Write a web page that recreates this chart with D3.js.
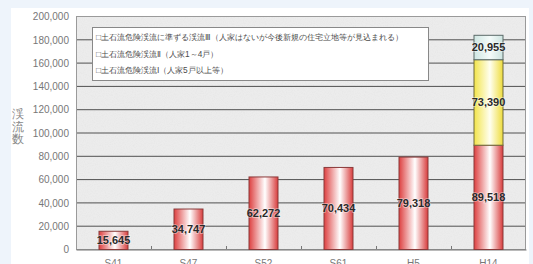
<!DOCTYPE html>
<html>
<head>
<meta charset="utf-8">
<script src="https://cdn.jsdelivr.net/npm/d3@7"></script>
<style>
  body { margin: 0; background: #eef4fb; }
  svg { display: block; }
  text { font-family: "Liberation Sans", Arial, sans-serif; }
  .jp { font-family: "Noto Sans CJK JP", sans-serif; }
</style>
</head>
<body>
<svg id="chart" width="533" height="264"></svg>
<script>
// data
var categories = ["S41", "S47", "S52", "S61", "H5", "H14"];
var danger1 = [15645, 34747, 62272, 70434, 79318, 89518];   // 土石流危険渓流Ⅰ
var danger2 = [0, 0, 0, 0, 0, 73390];                       // 土石流危険渓流Ⅱ
var danger3 = [0, 0, 0, 0, 0, 20955];                       // 準ずる渓流Ⅲ
var yTicks = [0, 20000, 40000, 60000, 80000, 100000, 120000, 140000, 160000, 180000, 200000];
var legendLabels = [
  "□土石流危険渓流に準ずる渓流Ⅲ（人家はないが今後新規の住宅立地等が見込まれる）",
  "□土石流危険渓流Ⅱ（人家1～4戸）",
  "□土石流危険渓流Ⅰ（人家5戸以上等）"
];

var svg = d3.select("#chart");

// note: "top" is taken by window.top, so plot edges get their own names
var plotL = 76, plotR = 526, plotT = 16, plotB = 249;

var x = d3.scaleBand()
    .domain(categories)
    .range([plotL, plotR])
    .paddingInner(0.6)
    .paddingOuter(0.3);

var y = d3.scaleLinear()
    .domain([0, 200000])
    .range([plotB, plotT]);

var defs = svg.append("defs");

function barGradient(id, edgeL, mid, edgeR) {
  var g = defs.append("linearGradient").attr("id", id)
      .attr("x1", "0%").attr("x2", "100%").attr("y1", "0%").attr("y2", "0%");
  g.append("stop").attr("offset", "0%").attr("stop-color", edgeL);
  g.append("stop").attr("offset", "55%").attr("stop-color", mid);
  g.append("stop").attr("offset", "100%").attr("stop-color", edgeR);
}
barGradient("gRed", "#dd4040", "#ffffff", "#d83c3c");
barGradient("gYel", "#f2e44a", "#fffff0", "#eedc3c");
barGradient("gCyan", "#cfe6e2", "#f4fbfa", "#cce3df");

// grainy grey texture for the plot area
var f = defs.append("filter").attr("id", "grain")
    .attr("x", 0).attr("y", 0).attr("width", "100%").attr("height", "100%");
f.append("feTurbulence").attr("type", "fractalNoise")
    .attr("baseFrequency", 0.9).attr("numOctaves", 2).attr("seed", 3).attr("result", "n");
f.append("feColorMatrix").attr("in", "n").attr("type", "matrix")
    .attr("values", "0 0 0 0 0.55  0 0 0 0 0.55  0 0 0 0 0.55  0 0 0 -0.9 0.55");

// white chart panel
svg.append("rect")
    .attr("x", 11).attr("y", 8).attr("width", 518).attr("height", 256)
    .attr("fill", "#ffffff");

// plot area
svg.append("rect")
    .attr("x", plotL).attr("y", plotT).attr("width", plotR - plotL).attr("height", plotB - plotT)
    .attr("fill", "#ececec");
svg.append("rect")
    .attr("x", plotL).attr("y", plotT).attr("width", plotR - plotL).attr("height", plotB - plotT)
    .attr("fill", "#000").attr("filter", "url(#grain)").attr("opacity", 0.25);

// gridlines
svg.append("g")
  .selectAll("line")
  .data(yTicks)
  .enter().append("line")
    .attr("x1", plotL).attr("x2", plotR)
    .attr("y1", function(d) { return y(d) + 0.5; })
    .attr("y2", function(d) { return y(d) + 0.5; })
    .attr("stroke", "#505050").attr("stroke-width", 1);

svg.append("rect")
    .attr("x", plotL + 0.5).attr("y", plotT + 0.5)
    .attr("width", plotR - plotL - 1).attr("height", plotB - plotT)
    .attr("fill", "none").attr("stroke", "#9a9a9a");

// y axis
var yAxis = svg.append("g")
    .attr("transform", "translate(" + plotL + ",0.5)")
    .call(d3.axisLeft(y).tickValues(yTicks).tickSize(0).tickPadding(7)
      .tickFormat(d3.format(",")));
yAxis.select(".domain").remove();
yAxis.selectAll("text")
    .attr("fill", "#777")
    .style("font-size", "10px")
    .style("font-family", "Liberation Sans, Arial, sans-serif");

// x axis baseline with category boundary ticks
var xAxis = svg.append("g")
    .attr("transform", "translate(0," + (plotB + 0.5) + ")")
    .call(d3.axisBottom(x).tickSize(0).tickPadding(10));
xAxis.select(".domain").attr("stroke", "#777");
xAxis.selectAll("text")
    .attr("fill", "#777")
    .style("font-size", "10px")
    .style("font-family", "Liberation Sans, Arial, sans-serif");

var step = x.step();
svg.append("g")
  .selectAll("line")
  .data(categories.slice(1))
  .enter().append("line")
    .attr("x1", function(d) { return Math.round(x(d) - step * 0.3) + 0.5; })
    .attr("x2", function(d) { return Math.round(x(d) - step * 0.3) + 0.5; })
    .attr("y1", plotB - 3).attr("y2", plotB)
    .attr("stroke", "#777");

// y title
svg.append("g").attr("class", "jp")
  .selectAll("text")
  .data(["渓", "流", "数"])
  .enter().append("text")
    .attr("x", 18)
    .attr("y", function(d, i) { return 118 + i * 12.5; })
    .attr("text-anchor", "middle")
    .attr("fill", "#888")
    .style("font-size", "11.5px")
    .text(function(d) { return d; });

// stacked bars
var stackData = categories.map(function(c, i) {
  return { cat: c, d1: danger1[i], d2: danger2[i], d3: danger3[i] };
});
var series = d3.stack().keys(["d1", "d2", "d3"])(stackData);
var fills = { d1: "url(#gRed)", d2: "url(#gYel)", d3: "url(#gCyan)" };
var strokes = { d1: "#8a3a3a", d2: "#6e6a3a", d3: "#5a6a68" };

series.forEach(function(s) {
  var g = svg.append("g");
  var segs = s.filter(function(d) { return d[1] - d[0] > 0; });
  g.selectAll("rect")
    .data(segs)
    .enter().append("rect")
      .attr("x", function(d) { return x(d.data.cat) + 0.5; })
      .attr("width", x.bandwidth() - 1)
      .attr("y", function(d) { return y(d[1]) + 0.5; })
      .attr("height", function(d) { return y(d[0]) - y(d[1]); })
      .attr("fill", fills[s.key])
      .attr("stroke", strokes[s.key])
      .attr("stroke-width", 1);
  g.selectAll("text")
    .data(segs)
    .enter().append("text")
      .attr("x", function(d) { return x(d.data.cat) + x.bandwidth() / 2; })
      .attr("y", function(d) { return (y(d[0]) + y(d[1])) / 2 + 4; })
      .attr("text-anchor", "middle")
      .attr("fill", "#2a2a2a")
      .style("font-size", "11px")
      .style("font-weight", "bold")
      .style("paint-order", "stroke")
      .style("stroke", "rgba(255,255,255,0.5)")
      .style("stroke-width", "1.5px")
      .text(function(d) { return d3.format(",")(d[1] - d[0]); });
});

// legend
var lg = svg.append("g").attr("class", "jp");
lg.append("rect")
    .attr("x", 92.5).attr("y", 27.5).attr("width", 336).attr("height", 53)
    .attr("fill", "#ffffff").attr("stroke", "#888");
lg.selectAll("text")
  .data(legendLabels)
  .enter().append("text")
    .attr("x", 96)
    .attr("y", function(d, i) { return 40 + i * 16.5; })
    .attr("fill", "#4a4a4a")
    .style("font-size", "8.3px")
    .text(function(d) { return d; });
</script>
</body>
</html>
